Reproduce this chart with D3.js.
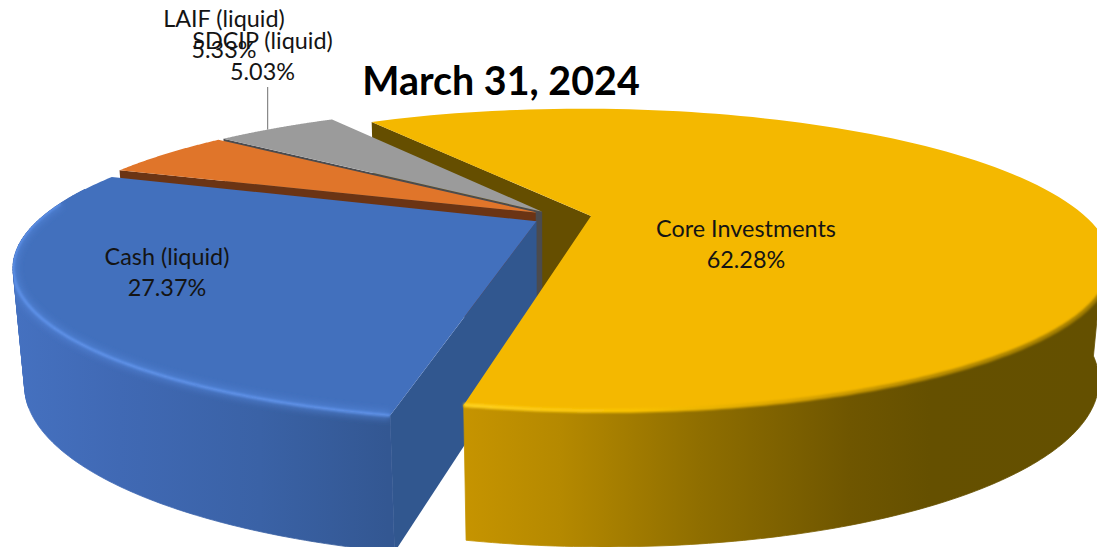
<!DOCTYPE html>
<html>
<head>
<meta charset="utf-8">
<script src="https://cdn.jsdelivr.net/npm/d3@7/dist/d3.min.js"></script>
<style>
  html, body { margin: 0; padding: 0; background: #fff; overflow: hidden; }
  svg { display: block; }
  text { font-family: Lato, "Open Sans", sans-serif; fill: #141414; }
</style>
</head>
<body>
<svg id="chart" width="1097" height="547"></svg>
<script>
// Portfolio composition values (percent of total)
const categories = ["Core Investments", "Cash (liquid)", "LAIF (liquid)", "SDCIP (liquid)"];
const shares = [62.28, 27.37, 5.33, 5.03];
const chartTitle = "March 31, 2024";

// How far each slice sits from the disc's hub, in disc radii (sideways, toward the viewer)
const sliceShift = [[0.081, -0.007], [-0.029, 0.03], [-0.026, -0.03], [-0.018, -0.038]];
// Small per-slice rotation, in degrees, that opens the seams between slices
const sliceTurn = [0, -0.4, -0.5, -0.3];

const topColors = ["#f4b800", "#426fbd", "#e0752b", "#9b9b9b"];
const wallColors = ["#654e00", "#31578f", "#6b3414", "#4b4b4e"];

// Perspective camera for the disc: u runs right, v runs toward the viewer, z runs down
const cam = { cx: 551, cy: 217, A: 495, B: 139, dropFlat: 56, dropNear: 57, k: 0.29, m: 0.02 };
const FIRST_ANGLE = 327.8 * Math.PI / 180;

function project(theta, r, slice, z) {
  const u = slice.eu + r * Math.sin(theta);
  const v = slice.ev - r * Math.cos(theta);
  const w = 1 - cam.k * v;
  return [
    cam.cx + cam.A * u / (w + cam.m * z),
    cam.cy + cam.B * v / w + z * (cam.dropFlat + cam.dropNear / w)
  ];
}

const svg = d3.select("#chart");
const defs = svg.append("defs");
const soft = (id, dev) => defs.append("filter").attr("id", id)
  .attr("x", "-10%").attr("y", "-10%").attr("width", "120%").attr("height", "120%")
  .append("feGaussianBlur").attr("stdDeviation", dev);
soft("softEdge", 1.1);
soft("softGlow", 3.2);
soft("softFace", 0.5);

const arcs = d3.pie().sort(null).value(d => d)
  .startAngle(FIRST_ANGLE).endAngle(FIRST_ANGLE + 2 * Math.PI)(shares);

const slices = arcs.map((a, i) => {
  const turn = sliceTurn[i] * Math.PI / 180;
  return {
    i, name: categories[i], value: a.value,
    a0: a.startAngle + turn, a1: a.endAngle + turn,
    eu: sliceShift[i][0],
    ev: sliceShift[i][1]
  };
});

const line = d3.line();
const closed = pts => line(pts) + "Z";
const arcPoints = (s, a0, a1, z) => d3.range(0, 121).map(t =>
  project(a0 + (a1 - a0) * t / 120, 1, s, z));

// Flat top of a slice
const faceOutline = s => [project(0, 0, s, 0), ...arcPoints(s, s.a0, s.a1, 0)];
// Radial wall on a slice's leading edge
const wallOutline = s => [
  project(0, 0, s, 0), project(s.a0, 1, s, 0),
  project(s.a0, 1, s, 1), project(0, 0, s, 1)
];
// Band between a slice's upper and lower outer edges
const rimOutline = (s, a0, a1) => [...arcPoints(s, a0, a1, 0), ...arcPoints(s, a0, a1, 1).reverse()];
// The same band cut into single-degree strips, safe where it folds at the silhouette
const DEG = Math.PI / 180;
const rimStrips = (s, a0, a1) => d3.range(a0, a1, DEG).map(t => closed([
  project(t, 1, s, 0), project(t + DEG, 1, s, 0), project(t + DEG, 1, s, 1), project(t, 1, s, 1)
]));

// Outer rim shading runs with screen x
const rimShade = [
  d3.scaleLinear().domain([464, 560, 700, 850, 930, 1097])
    .range(["#c69400", "#b58900", "#8f6e00", "#6f5600", "#655000", "#645000"]),
  d3.scaleLinear().domain([12, 120, 260, 388])
    .range(["#4571c0", "#4069b4", "#3a62a6", "#335792"])
];
rimShade.forEach((scale, i) => {
  const [x0, x1] = d3.extent(scale.domain());
  const grad = defs.append("linearGradient").attr("id", "rim" + i)
    .attr("gradientUnits", "userSpaceOnUse")
    .attr("x1", x0).attr("x2", x1).attr("y1", 0).attr("y2", 0);
  grad.selectAll("stop").data(scale.domain()).join("stop")
    .attr("offset", d => (d - x0) / (x1 - x0))
    .attr("stop-color", d => scale(d));
});

function drawRim(layer, s, a0, a1) {
  layer.append("path")
    .attr("d", closed(rimOutline(s, a0, a1)))
    .attr("fill", `url(#rim${s.i})`).attr("stroke", `url(#rim${s.i})`).attr("stroke-width", 0.8);
}

function drawRimStrips(layer, s, a0, a1) {
  layer.append("g")
    .attr("fill", `url(#rim${s.i})`).attr("stroke", `url(#rim${s.i})`).attr("stroke-width", 0.8)
    .selectAll("path").data(rimStrips(s, a0, a1)).join("path").attr("d", d => d);
}

function drawWall(layer, s) {
  layer.append("path").attr("d", closed(wallOutline(s))).attr("fill", wallColors[s.i]);
}

function drawFace(layer, s) {
  layer.append("path").attr("d", closed(faceOutline(s)))
    .attr("fill", topColors[s.i]).attr("filter", "url(#softFace)");
}

function drawBevel(layer, s, a0, a1, color, width, filter, opacity) {
  layer.append("path").attr("d", line(arcPoints(s, a0, a1, 0)))
    .attr("fill", "none").attr("stroke", color).attr("stroke-width", width)
    .attr("stroke-opacity", opacity).attr("filter", `url(#${filter})`);
}

const [gold, blue, orange, grey] = slices;
const chart = svg.append("g");

// Back to front: the core slice's rear wall, then the small slices, cash, and the core slice's front
drawWall(chart, gold);
drawWall(chart, grey);
drawFace(chart, grey);
drawWall(chart, orange);
drawFace(chart, orange);

// Narrow hub edge where the small slices meet
chart.append("line")
  .attr("x1", project(0, 0, grey, 0)[0] - 3.5).attr("y1", project(0, 0, grey, 0)[1])
  .attr("x2", project(0, 0, grey, 1)[0] - 3.5).attr("y2", project(0, 0, grey, 1)[1])
  .attr("stroke", wallColors[3]).attr("stroke-width", 6);

drawWall(chart, blue);
drawRim(chart, blue, blue.a0, blue.a0 + 1.0);
drawRimStrips(chart, blue, blue.a0 + 0.95, blue.a0 + 1.6);
drawFace(chart, blue);

// Highlight along the cash slice's near edge, kept inside the slice's silhouette
const blueClip = defs.append("clipPath").attr("id", "blueShape");
blueClip.append("path").attr("d", closed(faceOutline(blue)));
blueClip.append("path").attr("d", closed(rimOutline(blue, blue.a0, blue.a0 + 1.0)));
blueClip.selectAll("path.strip").data(rimStrips(blue, blue.a0 + 0.95, blue.a0 + 1.6))
  .join("path").attr("class", "strip").attr("d", d => d);
const blueLip = chart.append("g").attr("clip-path", "url(#blueShape)");
drawBevel(blueLip, blue, blue.a0, blue.a0 + 1.5, "#5689de", 9, "softGlow", 0.55);
drawBevel(blueLip, blue, blue.a0, blue.a0 + 1.5, "#6296ee", 2.6, "softEdge", 0.9);

drawRim(chart, gold, gold.a0 + 2.3, gold.a1);
drawFace(chart, gold);

// Soft lip along the core slice's near edge, bright on the lit side and dull where it turns away
const lipStops = [[0, "#ffd21f"], [0.28, "#f9c100"], [0.5, "#dca600"], [0.72, "#b88c00"], [1, "#a07c00"]];
const lip = defs.append("linearGradient").attr("id", "lipShade")
  .attr("gradientUnits", "userSpaceOnUse").attr("x1", 463).attr("x2", 1097).attr("y1", 0).attr("y2", 0);
lip.selectAll("stop").data(lipStops).join("stop")
  .attr("offset", d => d[0]).attr("stop-color", d => d[1]);
drawBevel(chart, gold, gold.a0 + 2.3, gold.a1, "url(#lipShade)", 4, "softEdge", 1);

// Labels
const pct = d3.format(".2f");
const labels = svg.append("g").attr("text-anchor", "middle").attr("font-size", 23.4);
const labelAt = [[746, 237], [167, 265], [224, 27], [262.5, 49]];
slices.forEach((s, i) => {
  const g = labels.append("text").attr("x", labelAt[i][0]).attr("y", labelAt[i][1]);
  g.append("tspan").text(s.name);
  g.append("tspan").attr("x", labelAt[i][0]).attr("dy", 31).text(pct(s.value) + "%");
});

// Leader from the SDCIP label down to its slice's outer edge
const leaderEnd = project(grey.a0 + 0.42 * (grey.a1 - grey.a0), 1, grey, 0);
svg.append("line")
  .attr("x1", leaderEnd[0]).attr("x2", leaderEnd[0])
  .attr("y1", 87).attr("y2", leaderEnd[1])
  .attr("stroke", "#6f6f6f").attr("stroke-width", 1);

svg.append("text").attr("x", 501).attr("y", 95)
  .attr("text-anchor", "middle").attr("font-size", 39.4).attr("font-weight", 700)
  .style("fill", "#000").text(chartTitle);
</script>
</body>
</html>
